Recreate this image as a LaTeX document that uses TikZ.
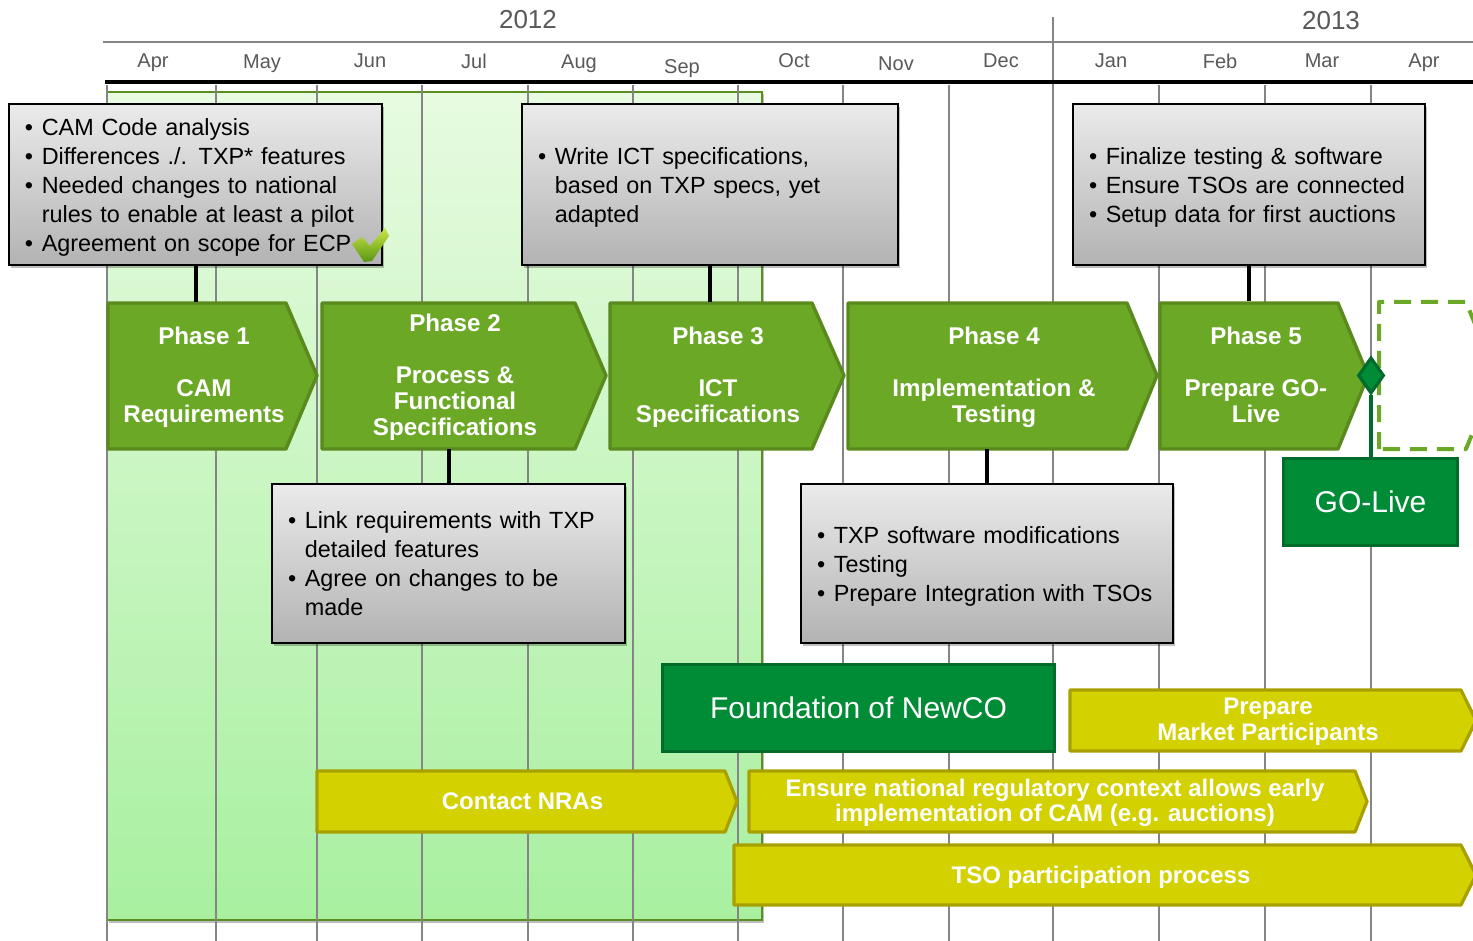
\documentclass[tikz,border=0pt]{standalone}
\usepackage{fontspec}
\setmainfont{Liberation Sans}
\usetikzlibrary{shapes.geometric,shadows}
\definecolor{phasefill}{HTML}{6AA826}
\definecolor{phaseedge}{HTML}{5A8A1E}
\definecolor{darkfill}{HTML}{008C37}
\definecolor{darkedge}{HTML}{006B2A}
\definecolor{yelfill}{HTML}{D3D100}
\definecolor{yeledge}{HTML}{A8A000}
\definecolor{labelgray}{HTML}{595959}
\definecolor{gridgray}{HTML}{858585}
\tikzset{
  x=0.5pt,y=-0.5pt,
  phaseshape/.style={draw=phaseedge,fill=phasefill,line width=1.7pt,line join=round},
  yelshape/.style={draw=yeledge,fill=yelfill,line width=1.6pt,line join=round},
  phasetext/.style={text=white,align=center,inner sep=0pt,minimum height=73.5pt,font=\fontsize{12.1}{13}\selectfont\bfseries},
  yeltext/.style={text=white,align=center,inner sep=0pt,font=\fontsize{12}{12.8}\selectfont\bfseries},
  greybox/.style={draw=black,line width=1pt,top color=black!8,bottom color=black!30,
    general shadow={fill=black,opacity=.25,shadow xshift=1.2pt,shadow yshift=-1.4pt},
    inner xsep=8pt,inner ysep=0pt,align=left,text=black,
    font=\fontsize{11.7}{14.5}\selectfont},
  darkbox/.style={draw=darkedge,fill=darkfill,line width=1.4pt,text=white,align=center,
    inner sep=0pt,font=\fontsize{15}{18}\selectfont},
  tie/.style={draw=black,line width=2pt},
  monthlabel/.style={text=labelgray,inner sep=0pt,text depth=0pt,font=\fontsize{10}{12}\selectfont},
  yearlabel/.style={text=labelgray,inner sep=0pt,font=\fontsize{13}{15}\selectfont},
  gridline/.style={draw=gridgray,line width=1pt},
}
\newcommand{\GreyBox}[6]{%
  \pgfmathsetlengthmacro{\boxtw}{(#3-#2)*0.5pt-16pt}%
  \pgfmathsetlengthmacro{\boxht}{(#5-#4)*0.5pt}%
  \node[greybox,text width=\boxtw,minimum height=\boxht] (#1) at ({(#2+#3)/2},{(#4+#5)/2}) {#6};
}
\newcommand{\Bul}{\makebox[8.4pt][l]{•}}
\newcommand{\Ind}{\hspace*{8.4pt}}
\newcommand{\Tall}{\rule{0pt}{10.9pt}}
\newcommand{\Up}{\rule{0pt}{11.2pt}}
\begin{document}
\begin{tikzpicture}
\useasboundingbox (0,0) rectangle (1473,941);
\clip (0,0) rectangle (1473,941);
\fill[white] (0,0) rectangle (1473,941);
% green panel
\fill[black,opacity=.25] (109,94) rectangle (764,923);
\path[draw=phasefill!85!black,line width=1pt,
  top color={rgb,255:red,231;green,251;blue,224},bottom color={rgb,255:red,168;green,240;blue,160}]
  (107,92) rectangle (762,920);
% grid
\foreach \gx in {107,216,317,422,528,633,738,843,949,1159,1265,1371}
  \draw[gridline] (\gx,85) -- (\gx,941);
\draw[gridline] (1053,17) -- (1053,941);
\draw[gridline] (103,42) -- (1473,42);
\draw[draw=black,line width=1.6pt] (105,82) -- (1473,82);
% labels
\node[yearlabel] (y12) at (528,20) {2012};
\node[yearlabel] (y13) at (1331,21) {2013};
\node[monthlabel] (m1) at (153,61) {Apr};
\node[monthlabel] (m2) at (262,62) {May};
\node[monthlabel] (m3) at (370,61) {Jun};
\node[monthlabel] (m4) at (474,61) {Jul};
\node[monthlabel] (m5) at (579,62) {Aug};
\node[monthlabel] (m6) at (682,67) {Sep};
\node[monthlabel] (m7) at (794,61) {Oct};
\node[monthlabel] (m8) at (896,64) {Nov};
\node[monthlabel] (m9) at (1001,61) {Dec};
\node[monthlabel] (m10) at (1111,61) {Jan};
\node[monthlabel] (m11) at (1220,61) {Feb};
\node[monthlabel] (m12) at (1322,61) {Mar};
\node[monthlabel] (m13) at (1424,61) {Apr};
% phases
\path[phaseshape] (108,303) -- (286,303) -- (317,375.5) -- (286,449) -- (108,449) -- cycle;
\node[phasetext] (ph1) at (204,375.5) {\Tall Phase 1\\[13pt]CAM\\Requirements};
\path[phaseshape] (322,303) -- (575,303) -- (606,375.5) -- (575,449) -- (322,449) -- cycle;
\node[phasetext] (ph2) at (455,375.5) {\Tall Phase 2\\[13pt]Process \&\\Functional\\Specifications};
\path[phaseshape] (610,303) -- (812,303) -- (844,375.5) -- (812,449) -- (610,449) -- cycle;
\node[phasetext] (ph3) at (718,375.5) {\Tall Phase 3\\[13pt]ICT\\Specifications};
\path[phaseshape] (848,303) -- (1127,303) -- (1157,375.5) -- (1127,449) -- (848,449) -- cycle;
\node[phasetext] (ph4) at (994,375.5) {\Tall Phase 4\\[13pt]Implementation \&\\Testing};
\path[phaseshape] (1160,303) -- (1338,303) -- (1368,375.5) -- (1338,449) -- (1160,449) -- cycle;
\node[phasetext] (ph5) at (1256,375) {Phase 5\\[13pt]Prepare GO-\\Live};
% dashed next phase
\draw[draw=phasefill,line width=2pt,dash pattern=on 8.5pt off 5pt,line join=round]
  (1379,449) -- (1379,302) -- (1466,302) -- (1496,375.5) -- (1466,449) -- cycle;
% grey boxes
\GreyBox{b1}{9}{382}{104}{265}{\Up\Bul CAM Code analysis\\\Bul Differences ./. TXP* features\\\Bul Needed changes to national\\\Ind rules to enable at least a pilot\\\Bul Agreement on scope for ECP}
\GreyBox{b2}{522}{898}{104}{265}{\Up\Bul Write ICT specifications,\\\Ind based on TXP specs, yet\\\Ind adapted}
\GreyBox{b3}{1073}{1425}{104}{265}{\Up\Bul Finalize testing \& software\\\Bul Ensure TSOs are connected\\\Bul Setup data for first auctions}
\GreyBox{b4}{272}{625}{484}{643}{\Bul Link requirements with TXP\\\Ind detailed features\\\Bul Agree on changes to be\\\Ind made}
\GreyBox{b5}{801}{1173}{484}{643}{\Up\Bul TXP software modifications\\\Bul Testing\\\Bul Prepare Integration with TSOs}
% ties
\draw[tie] (b1.south) -- (b1.south |- ph1.north);
\draw[tie] (b2.south) -- (b2.south |- ph3.north);
\draw[tie] (b3.south) -- (b3.south |- ph5.north);
\draw[tie] (b4.north) -- (b4.north |- ph2.south);
\draw[tie] (b5.north) -- (b5.north |- ph4.south);
% check mark
\path[top color={rgb,255:red,200;green,230;blue,70},bottom color={rgb,255:red,90;green,150;blue,20},draw=none]
  (352,244) -- (362,237) -- (370,246) -- (385,228) -- (389,236) -- (372,261) -- (364,262) -- cycle;
% go-live
\node[darkbox,minimum width=87pt,minimum height=43.5pt] (golive) at (1370.5,502) {GO-Live};
\node[diamond,draw=darkedge,fill=darkfill,line width=1.6pt,inner sep=0pt,aspect=.75,minimum width=13pt,minimum height=18pt] (gem) at (1371,375.5) {};
\draw[draw=darkedge,line width=1.6pt] (gem.south) -- (gem.south |- golive.north);
\node[darkbox,minimum width=196pt,minimum height=43.5pt] (found) at (858.5,708) {Foundation of NewCO};
% yellow bars
\path[yelshape] (1070,690) -- (1461,690) -- (1476,720.5) -- (1461,751) -- (1070,751) -- cycle;
\node[yeltext] (prep) at (1268,722) {Prepare\\Market Participants};
\path[yelshape] (317,771) -- (725,771) -- (737,801.5) -- (725,832) -- (317,832) -- cycle;
\node[yeltext] (nra) at (522.5,801) {Contact NRAs};
\path[yelshape] (749,771) -- (1355,771) -- (1367,801.5) -- (1355,832) -- (749,832) -- cycle;
\node[yeltext] (ens) at (1055,803) {Ensure national regulatory context allows early\\implementation of CAM (e.g. auctions)};
\path[yelshape] (734,845) -- (1461,845) -- (1476,875) -- (1461,905) -- (734,905) -- cycle;
\node[yeltext] (tso) at (1101,877) {TSO participation process};
\end{tikzpicture}
\end{document}
